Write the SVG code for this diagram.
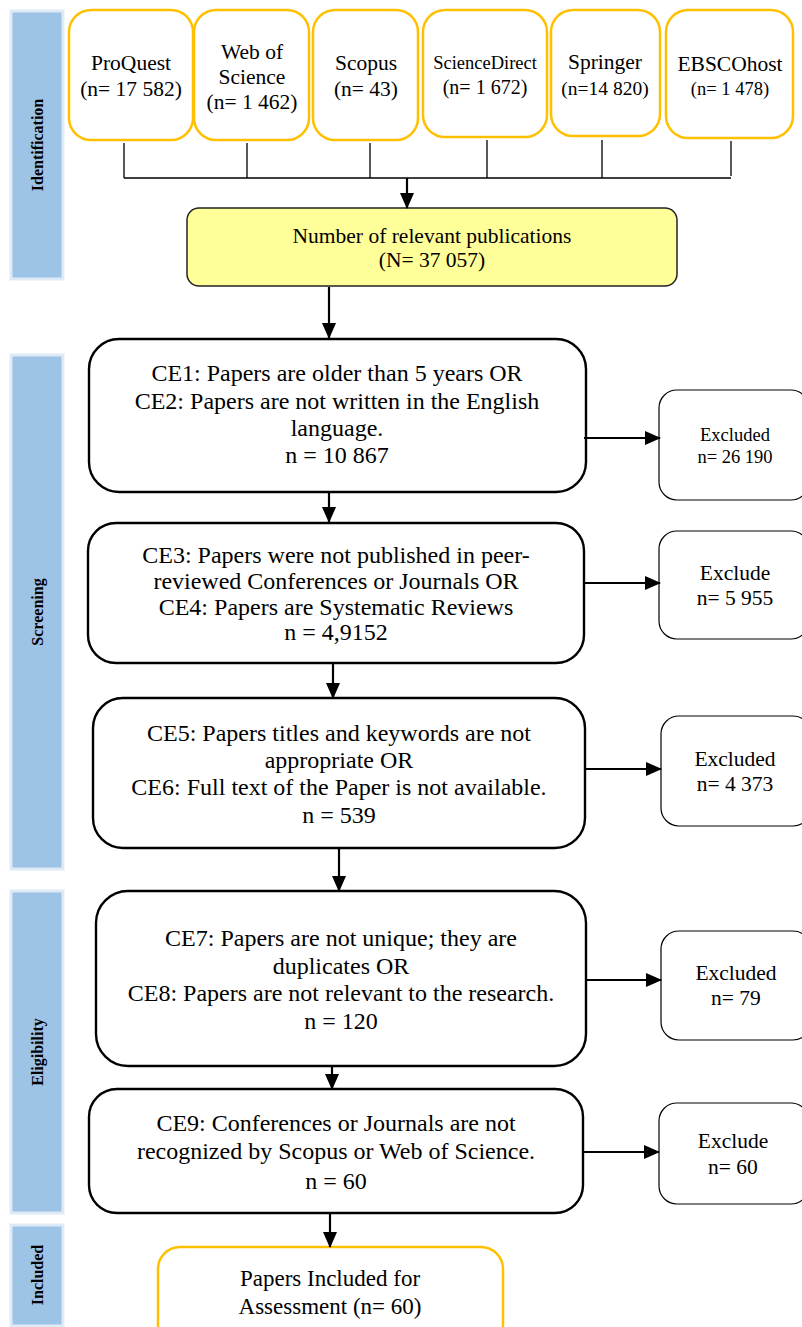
<svg xmlns="http://www.w3.org/2000/svg" width="802" height="1327" viewBox="0 0 802 1327">
<style>
text{font-family:"Liberation Serif","Times New Roman",serif;fill:#000;text-anchor:middle}
.side{fill:#9DC3E6;stroke:#DEEBF7;stroke-width:3}
.side-t{font-size:16px;font-weight:bold}
.src{fill:#fff;stroke:#FFC000;stroke-width:2.5}
.ce{fill:#fff;stroke:#000;stroke-width:2.4}
.ex{fill:#fff;stroke:#000;stroke-width:1.2}
.conn{stroke:#000;fill:none}
.t24{font-size:24px}
.t21{font-size:21.5px}
.t18{font-size:18.5px}
</style>
<defs>
<marker id="ah" markerWidth="16" markerHeight="14" refX="15" refY="7" orient="auto" markerUnits="userSpaceOnUse">
<path d="M0,0 L16,7 L0,14 Z" fill="#000"/>
</marker>
</defs>

<g id="side-identification"><rect class="side" x="11" y="11" width="52" height="268"/><text class="side-t" transform="translate(43,145) rotate(-90)">Identification</text></g>
<g id="side-screening"><rect class="side" x="11" y="355" width="52" height="514"/><text class="side-t" transform="translate(43,612) rotate(-90)">Screening</text></g>
<g id="side-eligibility"><rect class="side" x="11" y="891" width="52" height="322"/><text class="side-t" transform="translate(43,1052) rotate(-90)">Eligibility</text></g>
<g id="side-included"><rect class="side" x="11" y="1225" width="52" height="101"/><text class="side-t" transform="translate(43,1275) rotate(-90)">Included</text></g>

<g id="proquest"><rect class="src" x="69" y="10" width="124" height="130" rx="22"/><text class="t21" x="131" y="70">ProQuest</text><text class="t21" x="131" y="96">(n= 17 582)</text></g>
<g id="wos"><rect class="src" x="194" y="10" width="115" height="130" rx="22"/><text class="t21" x="252" y="59">Web of</text><text class="t21" x="252" y="84">Science</text><text class="t21" x="252" y="109">(n= 1 462)</text></g>
<g id="scopus"><rect class="src" x="313" y="10" width="105" height="130" rx="22"/><text class="t21" x="366" y="70">Scopus</text><text class="t21" x="366" y="96">(n= 43)</text></g>
<g id="sciencedirect"><rect class="src" x="423" y="10" width="124" height="127" rx="22"/><text class="t18" x="485" y="69">ScienceDirect</text><text x="485" y="94" style="font-size:20px">(n= 1 672)</text></g>
<g id="springer"><rect class="src" x="551" y="10" width="109" height="126" rx="22"/><text class="t21" x="605" y="69">Springer</text><text x="605" y="95" style="font-size:19.5px">(n=14 820)</text></g>
<g id="ebscohost"><rect class="src" x="666" y="10" width="127" height="128" rx="22"/><text class="t21" x="730" y="71">EBSCOhost</text><text class="t18" x="730" y="95">(n= 1 478)</text></g>

<g id="total"><rect x="187" y="208" width="490" height="78" rx="12" fill="#FFFF99" stroke="#222" stroke-width="1.5"/><text class="t21" x="432" y="243">Number of relevant publications</text><text class="t21" x="432" y="267">(N= 37 057)</text></g>

<g id="ce1"><rect class="ce" x="89" y="339" width="497" height="153" rx="30"/>
<text class="t24" x="337" y="381">CE1: Papers are older than 5 years OR</text>
<text class="t24" x="337" y="409">CE2: Papers are not written in the English</text>
<text class="t24" x="337" y="436">language.</text>
<text class="t24" x="337" y="463">n = 10 867</text></g>
<g id="ex1"><rect class="ex" x="659" y="390" width="150" height="110" rx="18"/><text class="t18" x="735" y="441">Excluded</text><text class="t18" x="735" y="463">n= 26 190</text></g>

<g id="ce3"><rect class="ce" x="88" y="523" width="496" height="140" rx="28"/>
<text class="t24" x="336" y="563">CE3: Papers were not published in peer-</text>
<text class="t24" x="336" y="589">reviewed Conferences or Journals OR</text>
<text class="t24" x="336" y="615">CE4: Papers are Systematic Reviews</text>
<text class="t24" x="336" y="640">n = 4,9152</text></g>
<g id="ex2"><rect class="ex" x="659" y="531" width="150" height="108" rx="18"/><text class="t21" x="735" y="580">Exclude</text><text class="t21" x="735" y="605">n= 5 955</text></g>

<g id="ce5"><rect class="ce" x="93" y="698" width="492" height="150" rx="30"/>
<text class="t24" x="339" y="741">CE5: Papers titles and keywords are not</text>
<text class="t24" x="339" y="768">appropriate OR</text>
<text class="t24" x="339" y="795">CE6: Full text of the Paper is not available.</text>
<text class="t24" x="339" y="823">n = 539</text></g>
<g id="ex3"><rect class="ex" x="661" y="716" width="150" height="110" rx="18"/><text class="t21" x="735" y="766">Excluded</text><text class="t21" x="735" y="791">n= 4 373</text></g>

<g id="ce7"><rect class="ce" x="96" y="891" width="490" height="175" rx="32"/>
<text class="t24" x="341" y="946">CE7: Papers are not unique; they are</text>
<text class="t24" x="341" y="974">duplicates OR</text>
<text class="t24" x="341" y="1001">CE8: Papers are not relevant to the research.</text>
<text class="t24" x="341" y="1029">n = 120</text></g>
<g id="ex4"><rect class="ex" x="661" y="931" width="150" height="109" rx="18"/><text class="t21" x="736" y="980">Excluded</text><text class="t21" x="736" y="1005">n= 79</text></g>

<g id="ce9"><rect class="ce" x="89" y="1089" width="494" height="124" rx="28"/>
<text class="t24" x="336" y="1131">CE9: Conferences or Journals are not</text>
<text class="t24" x="336" y="1159">recognized by Scopus or Web of Science.</text>
<text class="t24" x="336" y="1189">n = 60</text></g>
<g id="ex5"><rect class="ex" x="659" y="1103" width="150" height="101" rx="18"/><text class="t21" x="733" y="1148">Exclude</text><text class="t21" x="733" y="1174">n= 60</text></g>

<g id="included"><rect class="src" x="158" y="1247" width="345" height="100" rx="22"/><text x="330" y="1286" style="font-size:23px">Papers Included for</text><text x="330" y="1314" style="font-size:23px">Assessment (n= 60)</text></g>

<g id="connectors">
<path class="conn" stroke-width="1.3" d="M124,143 V178 M247,143 V178 M370,143 V178 M487,140 V178 M602,140 V178 M731,141 V176 M124,178 H731"/>
<line class="conn" stroke-width="2.2" x1="407" y1="178" x2="407" y2="208" marker-end="url(#ah)"/>
<line class="conn" stroke-width="2.2" x1="329" y1="287" x2="329" y2="338" marker-end="url(#ah)"/>
<line class="conn" stroke-width="2.2" x1="584" y1="438" x2="660" y2="438" marker-end="url(#ah)"/>
<line class="conn" stroke-width="2.2" x1="329" y1="492" x2="329" y2="522" marker-end="url(#ah)"/>
<line class="conn" stroke-width="2.2" x1="584" y1="583" x2="660" y2="583" marker-end="url(#ah)"/>
<line class="conn" stroke-width="2.2" x1="333" y1="663" x2="333" y2="698" marker-end="url(#ah)"/>
<line class="conn" stroke-width="2.2" x1="585" y1="769" x2="661" y2="769" marker-end="url(#ah)"/>
<line class="conn" stroke-width="2.2" x1="339" y1="849" x2="339" y2="891" marker-end="url(#ah)"/>
<line class="conn" stroke-width="2.2" x1="586" y1="980" x2="661" y2="980" marker-end="url(#ah)"/>
<line class="conn" stroke-width="2.2" x1="332" y1="1066" x2="332" y2="1089" marker-end="url(#ah)"/>
<line class="conn" stroke-width="2.2" x1="583" y1="1152" x2="659" y2="1152" marker-end="url(#ah)"/>
<line class="conn" stroke-width="2.2" x1="330" y1="1213" x2="330" y2="1247" marker-end="url(#ah)"/>
</g>
</svg>
